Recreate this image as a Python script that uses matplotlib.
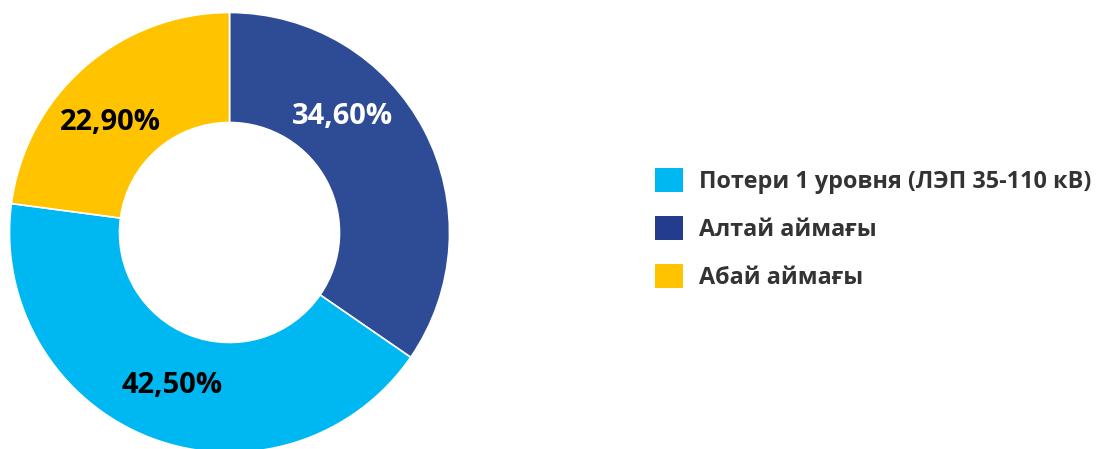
import numpy as np
import matplotlib.pyplot as plt
from matplotlib.patches import Patch

plt.rcParams['font.family'] = ['Open Sans', 'DejaVu Sans']

# wedge order (clockwise from 12 o'clock)
labels = ["Алтай аймағы", "Потери 1 уровня (ЛЭП 35-110 кВ)", "Абай аймағы"]
values = [34.6, 42.5, 22.9]
colors = ["#2E4B96", "#00B8F1", "#FFC300"]
text_colors = ["white", "black", "black"]
# legend order
legend_order = [1, 0, 2]
legend_colors = ["#00B8F1", "#233C8E", "#FFC300"]

W, H = 1096, 449
fig = plt.figure(figsize=(W / 100, H / 100), dpi=100)

R = 220  # outer radius, px
cx, cy = 229.5, H - 232.5
ax = fig.add_axes([(cx - 1.1 * R) / W, (cy - 1.1 * R) / H, 2.2 * R / W, 2.2 * R / H])

wedges, _ = ax.pie(values, colors=colors, startangle=90, counterclock=False,
                   radius=1.0, wedgeprops=dict(width=0.5, edgecolor="white", linewidth=1.2))
ax.set_xlim(-1.1, 1.1)
ax.set_ylim(-1.1, 1.1)
ax.axis("off")
for w in wedges:
    w.set_clip_on(False)

# label placement: mid angle + small tweak
ang_shift = [18.8, 0.2, 5.5]
rad = [0.745, 0.73, 0.745]
for w, v, tc, dA, r in zip(wedges, values, text_colors, ang_shift, rad):
    a = np.deg2rad((w.theta1 + w.theta2) / 2 + dA)
    ax.annotate(f"{v:.2f}%".replace(".", ","), (r * np.cos(a), r * np.sin(a)),
                xytext=(0, -2), textcoords="offset points",
                ha="center", va="center", color=tc, fontsize=21, fontweight="bold")

handles = [Patch(facecolor=legend_colors[i], edgecolor="none") for i in range(3)]
leg = fig.legend(handles, [labels[i] for i in legend_order],
                 loc="upper left", bbox_to_anchor=(655 / W, 1 - 168 / H),
                 frameon=False, handlelength=1.2, handleheight=1.2, handletextpad=0.7,
                 labelspacing=0.95, borderaxespad=0, borderpad=0,
                 prop=dict(size=16.8, weight="bold"))
for t in leg.get_texts():
    t.set_color("#333333")

fig.savefig("out.png", dpi=100)
